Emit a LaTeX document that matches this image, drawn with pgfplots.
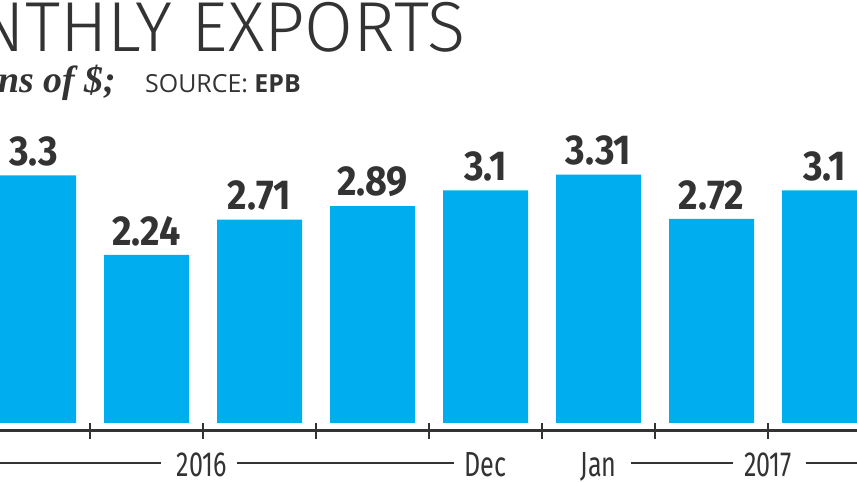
\documentclass[border=0pt]{standalone}
\usepackage{fontspec}
\usepackage{pgfplots}
\pgfplotsset{compat=1.18}
\setmainfont{Open Sans}
\newfontfamily\titlefont{Fira Sans Light}
\newfontfamily\valfont{Fira Sans}[FakeStretch=0.9]
\newfontfamily\labfont{Fira Sans}[FakeStretch=0.72]
\newfontfamily\subfont{Liberation Serif}

\definecolor{barblue}{HTML}{00AEEF}
\definecolor{ink}{HTML}{333333}

\begin{document}
\begin{tikzpicture}[x=1bp,y=1bp]
\useasboundingbox (0,0) rectangle (857,482);
\clip (0,0) rectangle (857,482);
\begin{axis}[
  at={(0bp,59bp)}, anchor=south west,
  scale only axis, width=857bp, height=423bp,
  xmin=-0.2965, xmax=7.2876, ymin=0, ymax=5.64,
  hide axis, clip=false,
  ybar, bar width=85bp,
  nodes near coords={\pgfmathprintnumber[assume math mode=true]{\pgfplotspointmeta}},
  every node near coord/.append style={font=\valfont\bfseries\fontsize{42}{42}\selectfont,
    text=ink, inner sep=0pt, yshift=9bp},
]
% monthly exports, billions of dollars
\addplot[fill=barblue, draw=none] coordinates {
  (0,3.3) (1,2.24) (2,2.71) (3,2.89) (4,3.1) (5,3.31) (6,2.72) (7,3.1)
};

% baseline with month separators
\draw[ink, line width=3bp] (axis cs:-0.2965,-0.1) -- (axis cs:7.2876,-0.1);
\foreach \t in {0.5,1.5,2.5,3.5,4.5,5.5,6.5} {
  \edef\tmp{\noexpand\draw[ink, line width=2.5bp] (axis cs:\t,0) -- (axis cs:\t,-0.2133);}
  \tmp
}

% period labels and year rules
\begin{scope}[ink, line width=1.5bp]
\draw (axis cs:-0.2965,-0.533) -- (axis cs:1.128,-0.533);
\draw (axis cs:1.800,-0.533) -- (axis cs:3.721,-0.533);
\draw (axis cs:5.288,-0.533) -- (axis cs:6.19,-0.533);
\draw (axis cs:6.836,-0.533) -- (axis cs:7.2876,-0.533);
\end{scope}
\begin{scope}[every node/.style={anchor=base, inner sep=0pt, text=ink,
    font=\labfont\fontsize{35}{35}\selectfont}]
\node at (axis cs:1.49,-0.72) {2016};
\node at (axis cs:4,-0.72) {Dec};
\node at (axis cs:5,-0.72) {Jan};
\node at (axis cs:6.5,-0.72) {2017};
\end{scope}
\end{axis}

\node[anchor=base east, inner sep=0pt, text=ink,
  font=\titlefont\fontsize{71}{71}\selectfont] at (466,430) {MONTHLY EXPORTS};
\node[anchor=base east, inner sep=0pt, text=ink,
  font=\subfont\bfseries\itshape\fontsize{38}{38}\selectfont] at (116,389) {In billions of \$;};
\node[anchor=base west, inner sep=0pt, text=ink,
  font=\fontsize{25}{25}\selectfont] at (145,389) {SOURCE: \textbf{EPB}};
\end{tikzpicture}
\end{document}
